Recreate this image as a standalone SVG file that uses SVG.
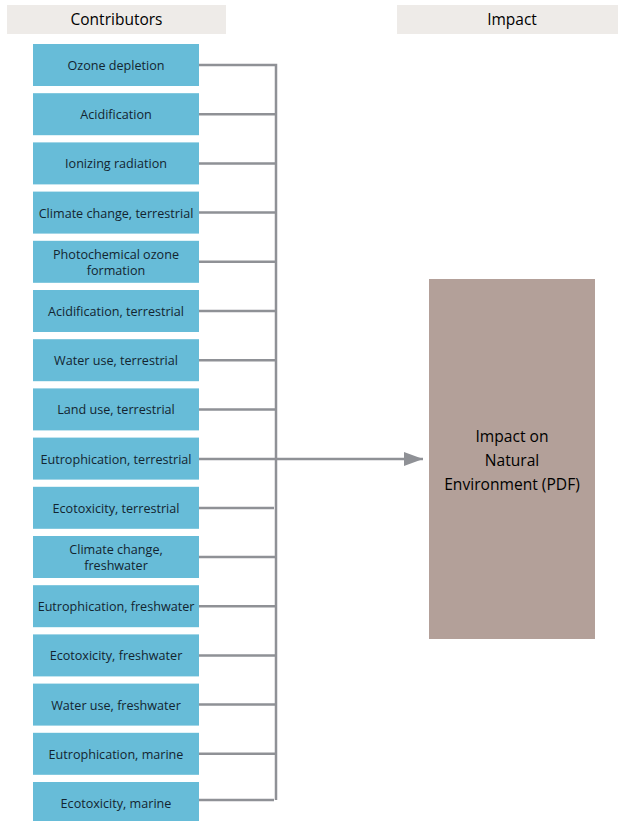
<svg xmlns="http://www.w3.org/2000/svg" width="618" height="821" viewBox="0 0 618 821">
<defs>
<style>
.hdr{fill:#eeebe8}
.hdrt{font-family:"Open Sans","Liberation Sans",sans-serif;font-size:15.5px;fill:#000;text-anchor:middle}
.box{fill:#67bcd8}
.bt{font-family:"Open Sans","Liberation Sans",sans-serif;font-size:12.6px;fill:#132530;text-anchor:middle}
.imp{fill:#b3a099}
.it{font-family:"Open Sans","Liberation Sans",sans-serif;font-size:15.6px;fill:#000;text-anchor:middle}
.ln{stroke:#8f9196;stroke-width:2.5;fill:none}
</style>
<marker id="arr" markerWidth="20" markerHeight="14" refX="19" refY="7" orient="auto" markerUnits="userSpaceOnUse">
<path d="M0,0 L19,7 L0,14 Z" fill="#8f9196"/>
</marker>
</defs>
<g id="header-contributors"><rect class="hdr" x="7" y="5" width="219" height="29"/><text class="hdrt" x="116.5" y="25">Contributors</text></g>
<g id="header-impact"><rect class="hdr" x="397" y="5" width="221" height="29"/><text class="hdrt" x="512" y="25">Impact</text></g>

<g id="n1"><rect class="box" x="33" y="44" width="166" height="42"/><text class="bt" x="116" y="70">Ozone depletion</text></g>
<g id="n2"><rect class="box" x="33" y="93.2" width="166" height="42"/><text class="bt" x="116" y="119.2">Acidification</text></g>
<g id="n3"><rect class="box" x="33" y="142.4" width="166" height="42"/><text class="bt" x="116" y="168.4">Ionizing radiation</text></g>
<g id="n4"><rect class="box" x="33" y="191.6" width="166" height="42"/><text class="bt" x="116" y="217.6">Climate change, terrestrial</text></g>
<g id="n5"><rect class="box" x="33" y="240.8" width="166" height="42"/><text class="bt" x="116" y="258.8">Photochemical ozone</text><text class="bt" x="116" y="274.8">formation</text></g>
<g id="n6"><rect class="box" x="33" y="290" width="166" height="42"/><text class="bt" x="116" y="316">Acidification, terrestrial</text></g>
<g id="n7"><rect class="box" x="33" y="339.2" width="166" height="42"/><text class="bt" x="116" y="365.2">Water use, terrestrial</text></g>
<g id="n8"><rect class="box" x="33" y="388.4" width="166" height="42"/><text class="bt" x="116" y="414.4">Land use, terrestrial</text></g>
<g id="n9"><rect class="box" x="33" y="437.6" width="166" height="42"/><text class="bt" x="116" y="463.6">Eutrophication, terrestrial</text></g>
<g id="n10"><rect class="box" x="33" y="486.8" width="166" height="42"/><text class="bt" x="116" y="512.8">Ecotoxicity, terrestrial</text></g>
<g id="n11"><rect class="box" x="33" y="536" width="166" height="42"/><text class="bt" x="116" y="554">Climate change,</text><text class="bt" x="116" y="570">freshwater</text></g>
<g id="n12"><rect class="box" x="33" y="585.2" width="166" height="42"/><text class="bt" x="116" y="611.2">Eutrophication, freshwater</text></g>
<g id="n13"><rect class="box" x="33" y="634.4" width="166" height="42"/><text class="bt" x="116" y="660.4">Ecotoxicity, freshwater</text></g>
<g id="n14"><rect class="box" x="33" y="683.6" width="166" height="42"/><text class="bt" x="116" y="709.6">Water use, freshwater</text></g>
<g id="n15"><rect class="box" x="33" y="732.8" width="166" height="42"/><text class="bt" x="116" y="758.8">Eutrophication, marine</text></g>
<g id="n16"><rect class="box" x="33" y="782" width="166" height="42"/><text class="bt" x="116" y="808">Ecotoxicity, marine</text></g>

<g id="impact"><rect class="imp" x="429" y="279" width="166" height="360"/><text class="it" x="512" y="442">Impact on</text><text class="it" x="512" y="466">Natural</text><text class="it" x="512" y="490">Environment (PDF)</text></g>

<g id="connectors">
<path class="ln" d="M199,65 H276 V800"/>
<path class="ln" d="M199,114.2 H276 M199,163.4 H276 M199,212.6 H276 M199,261.8 H276 M199,311 H276 M199,360.2 H276 M199,409.4 H276 M199,508 H274 M199,557 H276 M199,606.2 H276 M199,655.4 H276 M199,704.6 H276 M199,753.8 H276 M199,800 H274"/>
<path class="ln" d="M199,459 H423" marker-end="url(#arr)"/>
</g>
</svg>
